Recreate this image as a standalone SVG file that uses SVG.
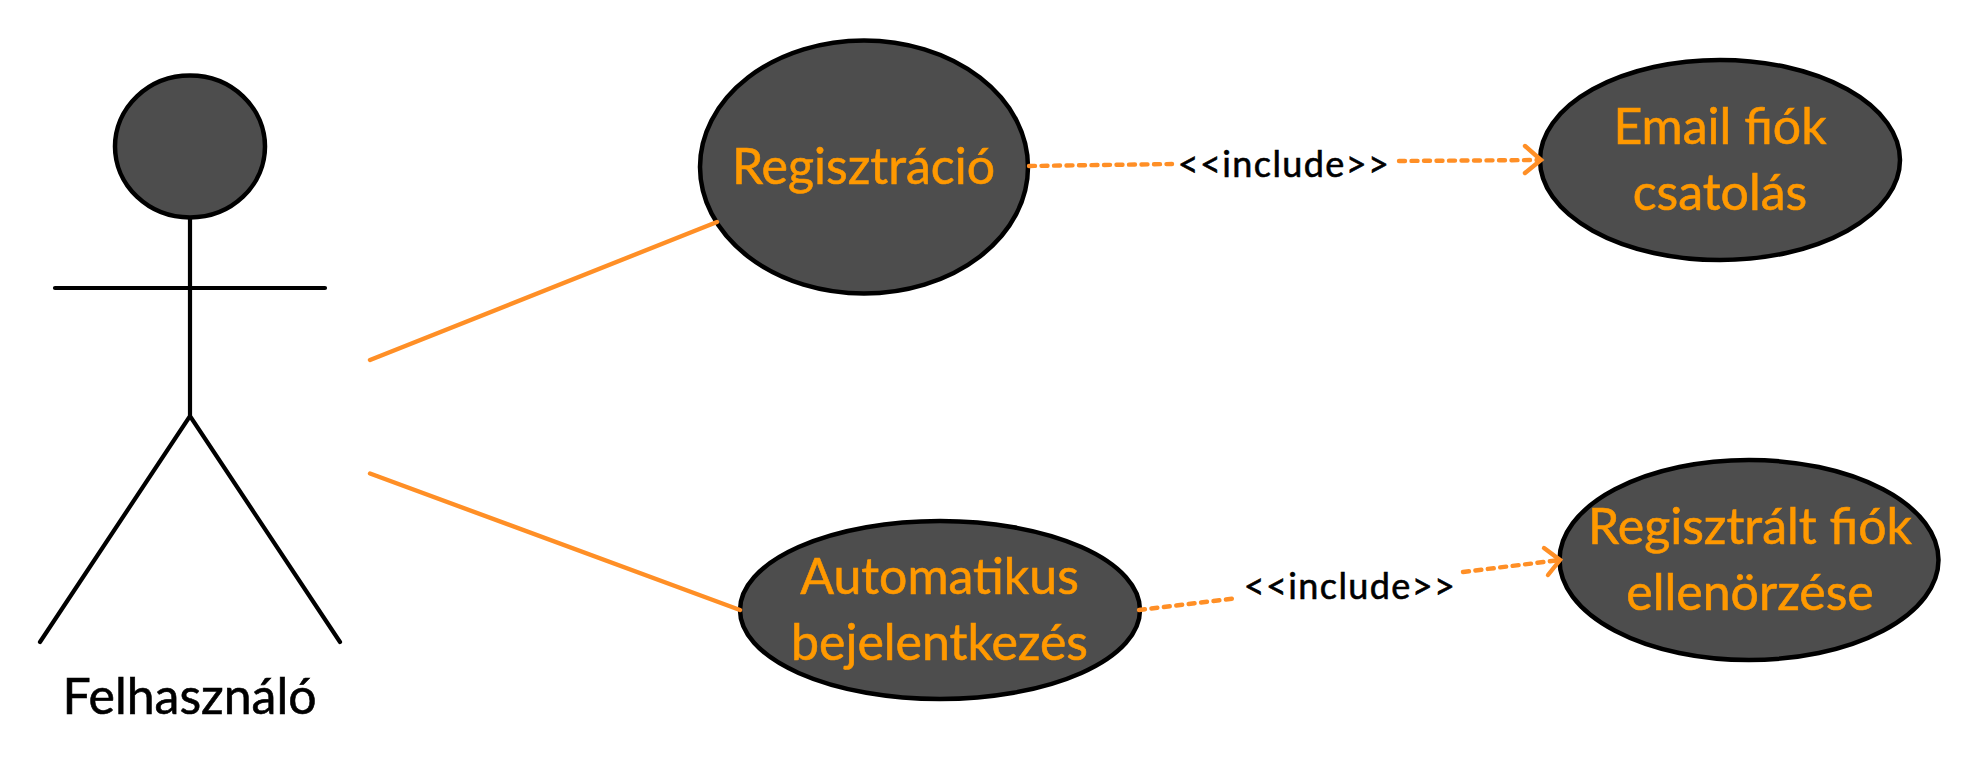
<svg xmlns="http://www.w3.org/2000/svg" width="1981" height="770" viewBox="0 0 1981 770">
<style>
.n{fill:#4d4d4d;stroke:#000;stroke-width:4.500}
.s{fill:none;stroke:#000;stroke-width:4.200;stroke-linecap:round}
.t{font-family:Lato,"Liberation Sans",sans-serif;font-size:50px;fill:#ff9900;stroke:#ff9900;stroke-width:.6;text-anchor:middle}
.a{font-family:Lato,"Liberation Sans",sans-serif;font-size:50px;fill:#000;stroke:#000;stroke-width:.6;text-anchor:middle}
.l{font-family:Lato,"Liberation Sans",sans-serif;font-size:36px;letter-spacing:1.400px;fill:#000;stroke:#000;stroke-width:.6;text-anchor:middle}
.c{fill:none;stroke:#ff8f26;stroke-width:4.400;stroke-linecap:round}
.d{stroke-dasharray:6 6.500}
</style>
<rect width="1981" height="770" fill="#fff"/>
<g id="actor">
<ellipse class="n" cx="190" cy="146.500" rx="75" ry="71"/>
<path class="s" d="M190 218V416M55 288H325M40 642L190 416L340 642"/>
<text class="a" x="189.500" y="714">Felhasználó</text>
</g>
<g id="label-include-1"><text class="l" x="1284" y="177">&lt;&lt;include&gt;&gt;</text></g>
<g id="label-include-2"><text class="l" x="1350" y="599">&lt;&lt;include&gt;&gt;</text></g>
<g id="registracio">
<ellipse class="n" cx="864" cy="167" rx="164" ry="126.500"/>
<text class="t" x="863.500" y="184">Regisztráció</text>
</g>
<g id="automatikus">
<ellipse class="n" cx="940" cy="610" rx="200" ry="89"/>
<text class="t" x="939.500" y="594">Automatikus</text>
<text class="t" x="939.500" y="660">bejelentkezés</text>
</g>
<g id="email">
<ellipse class="n" cx="1720" cy="160" rx="180" ry="100"/>
<text class="t" x="1720" y="144">Email fiók</text>
<text class="t" x="1720" y="210">csatolás</text>
</g>
<g id="ellenorzes">
<ellipse class="n" cx="1749" cy="560" rx="189.500" ry="100"/>
<text class="t" x="1750" y="544">Regisztrált fiók</text>
<text class="t" x="1750" y="610">ellenörzése</text>
</g>
<g id="connectors">
<path class="c" d="M370 360L717 222"/>
<path class="c" d="M370 473.500L740 610"/>
<path class="c d" d="M1029 166L1172 164"/>
<path class="c d" d="M1399 161L1540 160"/>
<path class="c" d="M1525 146L1541 160L1525 173"/>
<path class="c d" d="M1139 610L1238 598"/>
<path class="c d" d="M1463 572L1560 560"/>
<path class="c" d="M1544 548L1560 560L1548 575"/>
</g>
</svg>
